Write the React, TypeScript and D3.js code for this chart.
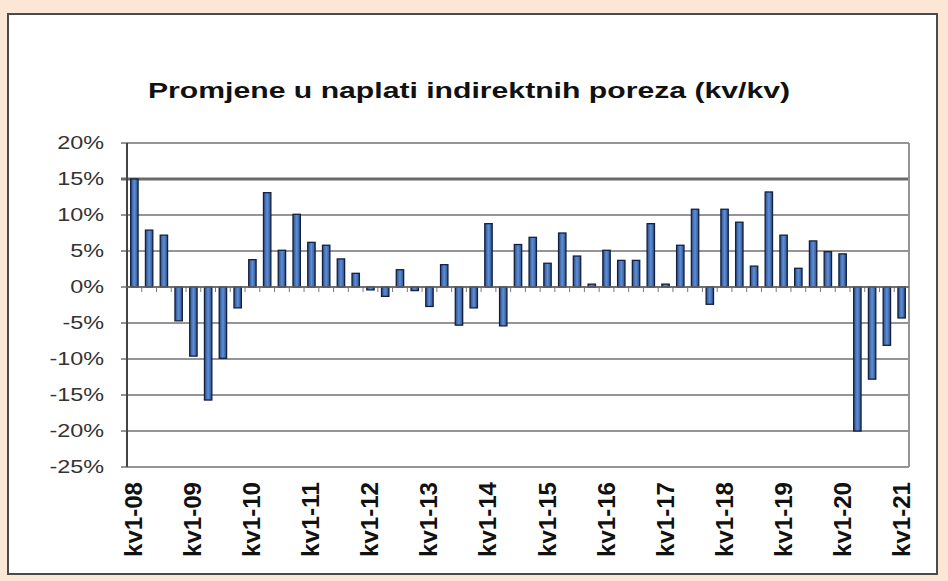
import { useEffect, useRef } from 'react';
import * as d3 from 'd3';

const YEARS = ['08', '09', '10', '11', '12', '13', '14', '15', '16', '17', '18', '19', '20', '21'];
const QUARTERS = ['kv1', 'kv2', 'kv3', 'kv4'];

// promjena u %, kv/kv, od kv1-08 do kv1-21
const VALUES = [
  15.0, 7.9, 7.2, -4.7,
  -9.6, -15.7, -9.9, -2.9,
  3.8, 13.1, 5.1, 10.1,
  6.2, 5.8, 3.9, 1.9,
  -0.4, -1.3, 2.4, -0.5,
  -2.7, 3.1, -5.3, -2.9,
  8.8, -5.4, 5.9, 6.9,
  3.3, 7.5, 4.3, 0.4,
  5.1, 3.7, 3.7, 8.8,
  0.4, 5.8, 10.8, -2.4,
  10.8, 9.0, 2.9, 13.2,
  7.2, 2.6, 6.4, 4.9,
  4.6, -20.0, -12.8, -8.1,
  -4.3,
];

const Y_TICKS = [20, 15, 10, 5, 0, -5, -10, -15, -20, -25];

const TITLE = 'Promjene u naplati indirektnih poreza (kv/kv)';

const categories = YEARS.flatMap(y => QUARTERS.map(q => `${q}-${y}`)).slice(0, VALUES.length);

export default function App() {
  const svgRef = useRef<SVGSVGElement>(null);

  useEffect(() => {
    if (!svgRef.current) return;
    const width = 948;
    const height = 581;
    const margin = { top: 143, right: 39, bottom: 114, left: 127 };

    const svg = d3.select(svgRef.current);
    svg.selectAll('*').remove();
    svg.attr('width', width).attr('height', height);

    const defs = svg.append('defs');
    const grad = defs.append('linearGradient').attr('id', 'barFill')
      .attr('x1', '0%').attr('x2', '100%').attr('y1', '0%').attr('y2', '0%');
    grad.append('stop').attr('offset', '0%').attr('stop-color', '#2c4f8c');
    grad.append('stop').attr('offset', '50%').attr('stop-color', '#5d8fd6');
    grad.append('stop').attr('offset', '100%').attr('stop-color', '#2c4f8c');

    // background + panel
    svg.append('rect').attr('width', width).attr('height', height).attr('fill', '#fce7d7');
    svg.append('rect')
      .attr('x', 8).attr('y', 14).attr('width', 929).attr('height', 560)
      .attr('fill', '#ffffff').attr('stroke', '#4a4a4a').attr('stroke-width', 2);

    const x = d3.scaleBand()
      .domain(categories)
      .range([margin.left, width - margin.right])
      .paddingInner(0.5).paddingOuter(0.25);

    const y = d3.scaleLinear()
      .domain([-25, 20])
      .range([height - margin.bottom, margin.top]);

    // gridlines
    svg.append('g').selectAll('line')
      .data(Y_TICKS).join('line')
      .attr('x1', margin.left - 6).attr('x2', width - margin.right)
      .attr('y1', d => y(d)).attr('y2', d => y(d))
      .attr('stroke', d => (d === 15 ? '#6a6a6a' : '#959595'))
      .attr('stroke-width', d => (d === 15 ? 3 : 2));

    // plot right border
    svg.append('line')
      .attr('x1', width - margin.right).attr('x2', width - margin.right)
      .attr('y1', y(20)).attr('y2', y(-25))
      .attr('stroke', '#959595').attr('stroke-width', 2);

    // y labels
    svg.append('g').selectAll('text')
      .data(Y_TICKS).join('text')
      .attr('transform', d => `translate(104,${y(d) + 6}) scale(1.3,1)`)
      .attr('text-anchor', 'end')
      .attr('font-family', 'Liberation Sans, Arial, sans-serif')
      .attr('font-size', 18)
      .attr('fill', '#333')
      .text(d => `${d}%`);

    // bars
    svg.append('g').selectAll('rect')
      .data(VALUES).join('rect')
      .attr('x', (_, i) => x(categories[i])!)
      .attr('y', d => y(Math.max(0, d)))
      .attr('width', x.bandwidth())
      .attr('height', d => Math.abs(y(d) - y(0)))
      .attr('fill', 'url(#barFill)')
      .attr('stroke', '#14203d')
      .attr('stroke-width', 1.3);

    // category ticks on zero line
    const step = x.step();
    svg.append('g').selectAll('line')
      .data(categories.slice(1)).join('line')
      .attr('x1', d => x(d)! - step * 0.25).attr('x2', d => x(d)! - step * 0.25)
      .attr('y1', y(0)).attr('y2', y(0) + 5)
      .attr('stroke', '#777').attr('stroke-width', 1);

    // left axis
    svg.append('line')
      .attr('x1', margin.left).attr('x2', margin.left)
      .attr('y1', y(20)).attr('y2', y(-25))
      .attr('stroke', '#444').attr('stroke-width', 2);
    svg.append('line')
      .attr('x1', margin.left - 1).attr('x2', width - margin.right)
      .attr('y1', y(0)).attr('y2', y(0))
      .attr('stroke', '#666').attr('stroke-width', 1.5);

    // x labels (one per year)
    const labels = categories.filter(c => c.startsWith('kv1'));
    svg.append('g').selectAll('text')
      .data(labels).join('text')
      .attr('transform', d => `translate(${x(d)! + x.bandwidth() / 2 + 8},482) rotate(-90)`)
      .attr('text-anchor', 'end')
      .attr('font-family', 'Liberation Sans, Arial, sans-serif')
      .attr('font-weight', 'bold')
      .attr('font-size', 23)
      .attr('textLength', 75)
      .attr('lengthAdjust', 'spacingAndGlyphs')
      .attr('fill', '#111')
      .text(d => d);

    // title
    svg.append('text')
      .attr('x', 148).attr('y', 98)
      .attr('font-family', 'Liberation Sans, Arial, sans-serif')
      .attr('font-weight', 'bold')
      .attr('font-size', 22)
      .attr('textLength', 642)
      .attr('lengthAdjust', 'spacingAndGlyphs')
      .attr('fill', '#111')
      .text(TITLE);
  }, []);

  return (
    <svg ref={svgRef} style={{ position: 'absolute', left: 0, top: 0, display: 'block' }} />
  );
}
